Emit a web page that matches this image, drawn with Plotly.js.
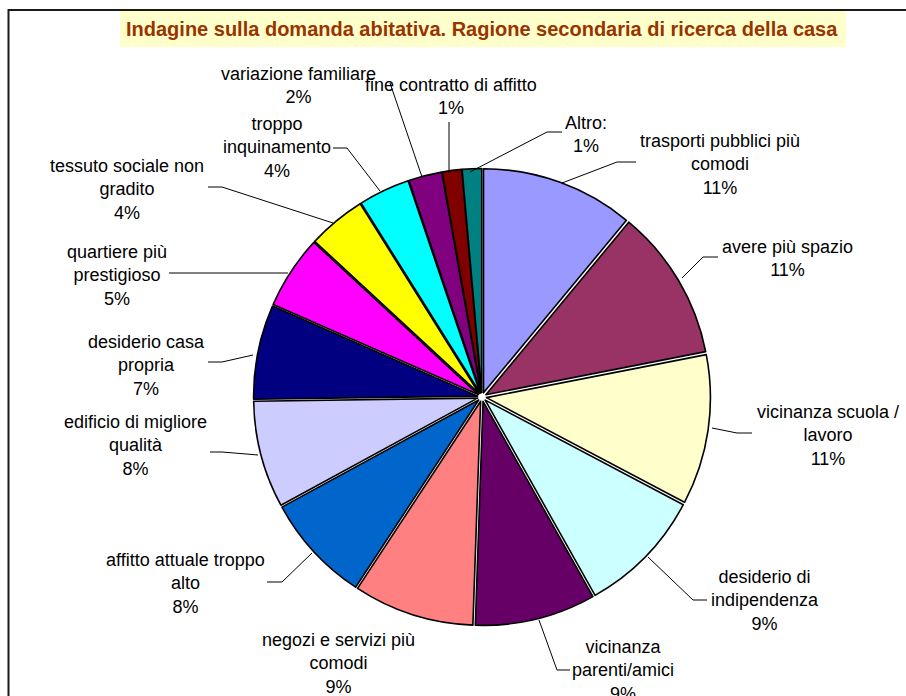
<!DOCTYPE html>
<html>
<head>
<meta charset="utf-8">
<script src="https://cdn.plot.ly/plotly-3.0.1.min.js"></script>
<style>
html,body{margin:0;padding:0;background:#fff;}
#chart{width:906px;height:696px;}
</style>
</head>
<body>
<div id="chart"></div>
<script>
// ---- data ----
var titleText = "Indagine sulla domanda abitativa. Ragione secondaria di ricerca della casa";
var categories = [
  "trasporti pubblici più<br>comodi",
  "avere più spazio",
  "vicinanza scuola /<br>lavoro",
  "desiderio di<br>indipendenza",
  "vicinanza<br>parenti/amici",
  "negozi e servizi più<br>comodi",
  "affitto attuale troppo<br>alto",
  "edificio di migliore<br>qualità",
  "desiderio casa<br>propria",
  "quartiere più<br>prestigioso",
  "tessuto sociale non<br>gradito",
  "troppo<br>inquinamento",
  "variazione familiare",
  "fine contratto di affitto",
  "Altro:"
];
var values = [11.0, 10.9, 10.8, 9.1, 8.7, 8.7, 7.8, 7.7, 6.8, 5.3, 4.2, 3.7, 2.4, 1.4, 1.4];
var sliceColors = ["#9999FF","#993366","#FFFFCC","#CCFFFF","#660066","#FF8080","#0066CC",
                   "#CCCCFF","#000080","#FF00FF","#FFFF00","#00FFFF","#800080","#800000","#008080"];

// ---- layout helpers (pixel positions of outside labels and leader lines) ----
var labelPos = [
  [720,164],[787,258],[828,435],[765,600],[623,670],[338,663],[185,583],
  [135,445],[146,365],[117,275],[127,189],[277,147],[298,85],[451,96],[586,134]
];
var leaderPaths = [
  "M562,183 L617,162 L636,162",
  "M682,278 L703,257 L718,257",
  "M712,428 L737,433 L752,433",
  "M648,557 L693,600 L707,600",
  "M539,620 L557,670 L570,670",
  null,
  "M312,553 L282,582 L267,582",
  "M258,455 L222,452 L210,452",
  "M253,355 L222,362 L208,362",
  "M288,273 L169,273",
  "M333,223 L222,187 L208,187",
  "M380,191 L347,148 L333,148",
  "M422,177 L390,83",
  "M449,173 L449,122",
  "M470,172 L547,132 L562,132"
];

var W = 906, H = 696;
var total = values.reduce(function(a,b){return a+b;},0);

var annotations = [];
var shapes = [];

// chart frame
shapes.push({type:'rect', xref:'x', yref:'y', x0:8.5, y0:10, x1:W+20, y1:H+40,
             line:{color:'#1a1a1a', width:2}, fillcolor:'rgba(0,0,0,0)', layer:'below'});
// title background
shapes.push({type:'rect', xref:'x', yref:'y', x0:120, y0:11, x1:846, y1:47,
             line:{width:0}, fillcolor:'#FFFFCC', layer:'below'});

annotations.push({xref:'x', yref:'y', x:482, y:29, xanchor:'center', yanchor:'middle',
  text:'<b>'+titleText+'</b>', showarrow:false,
  font:{family:'"Liberation Sans", Arial, sans-serif', size:20, color:'#993300'}});

for (var i = 0; i < categories.length; i++) {
  var pct = Math.round(values[i] / total * 100) + '%';
  annotations.push({xref:'x', yref:'y', x:labelPos[i][0], y:labelPos[i][1],
    xanchor:'center', yanchor:'middle', align:'center', showarrow:false,
    text: categories[i] + '<br>' + pct,
    font:{family:'"Liberation Sans", Arial, sans-serif', size:18, color:'#000'}});
  if (leaderPaths[i]) {
    shapes.push({type:'path', xref:'x', yref:'y', path:leaderPaths[i],
      line:{color:'#000', width:1}});
  }
}

var pieTrace = {
  type:'pie',
  values: values,
  labels: categories,
  sort:false,
  direction:'clockwise',
  rotation:0,
  textinfo:'none',
  hoverinfo:'label+percent',
  pull:0.02,
  marker:{colors:sliceColors, line:{color:'#000', width:1.6}},
  domain:{x:[0.2798,0.7842], y:[0.1013,0.7579]},
  showlegend:false
};
var helper = {type:'scatter', x:[], y:[], hoverinfo:'none', showlegend:false};

var layout = {
  width:W, height:H,
  margin:{l:0,r:0,t:0,b:0},
  paper_bgcolor:'#fff', plot_bgcolor:'rgba(0,0,0,0)',
  showlegend:false,
  xaxis:{range:[0,W], visible:false, fixedrange:true},
  yaxis:{range:[H,0], visible:false, fixedrange:true},
  shapes:shapes,
  annotations:annotations
};

Plotly.newPlot('chart', [helper, pieTrace], layout, {displayModeBar:false, staticPlot:true});
</script>
</body>
</html>
